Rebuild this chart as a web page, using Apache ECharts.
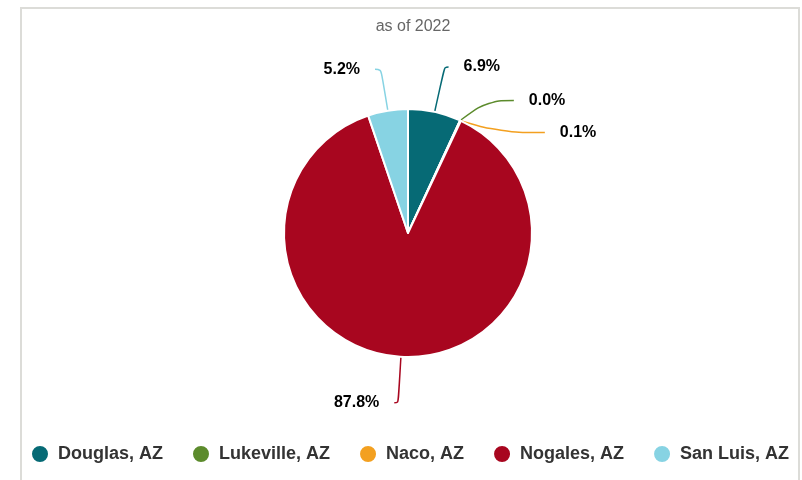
<!DOCTYPE html>
<html>
<head>
<meta charset="utf-8">
<script src="https://cdn.jsdelivr.net/npm/echarts@6/dist/echarts.min.js"></script>
<style>html,body{margin:0;padding:0;background:#fff}#c{width:802px;height:480px}</style>
</head>
<body>
<div id="c"></div>
<script>
var titleText = 'as of 2022';
var categories = ['Douglas, AZ', 'Lukeville, AZ', 'Naco, AZ', 'Nogales, AZ', 'San Luis, AZ'];
var values = [6.9, 0.02, 0.1, 87.8, 5.2];
var colors = ['#066a75', '#5c8b2c', '#f3a020', '#a8061f', '#87d3e3'];
// label line lengths per slice (style only)
var lineLen = [46, 22, 8, 46, 42];
var lineLen2 = [4, 26, 44, 4, 6];
var labelLineHeights = [20, 20, 40, 20, 20];

var chart = echarts.init(document.getElementById('c'), null, {renderer: 'canvas'});
var data = categories.map(function (n, i) {
  return {
    name: n, value: values[i], itemStyle: {color: colors[i]},
    label: {lineHeight: labelLineHeights[i]},
    labelLine: {length: lineLen[i], length2: lineLen2[i], lineStyle: {color: colors[i]}}
  };
});
chart.setOption({
  animation: false,
  title: {
    text: titleText, left: 408, top: 14, textAlign: 'center',
    textStyle: {fontFamily: 'Liberation Sans, Arial, sans-serif', fontSize: 16, fontWeight: 'normal', color: '#666666'}
  },
  graphic: [{
    type: 'polyline', silent: true,
    shape: {points: [[21, 480], [21, 8], [799, 8], [799, 480]]},
    style: {stroke: '#dcdcd8', lineWidth: 2, fill: null}
  }],
  legend: {
    top: 444, left: 30, width: 772, padding: 0,
    icon: 'circle', itemWidth: 18, itemHeight: 18, itemGap: 28,
    textStyle: {fontFamily: 'Liberation Sans, Arial, sans-serif', fontSize: 18, fontWeight: 'bold', color: '#333333', padding: [0, 0, 0, 4]},
    data: categories
  },
  series: [{
    type: 'pie',
    center: [408, 233], radius: 124,
    startAngle: 90, clockwise: true,
    avoidLabelOverlap: true,
    itemStyle: {borderColor: '#ffffff', borderWidth: 2},
    label: {
      show: true,
      formatter: function (p) { return p.value.toFixed(1) + '%'; },
      fontFamily: 'Liberation Sans, Arial, sans-serif', fontSize: 16, fontWeight: 'bold', color: '#000000',
      distanceToLabelLine: 15
    },
    labelLine: {show: true, smooth: 0.4, lineStyle: {width: 1.5}},
    emphasis: {disabled: true},
    data: data
  }]
});
</script>
</body>
</html>
